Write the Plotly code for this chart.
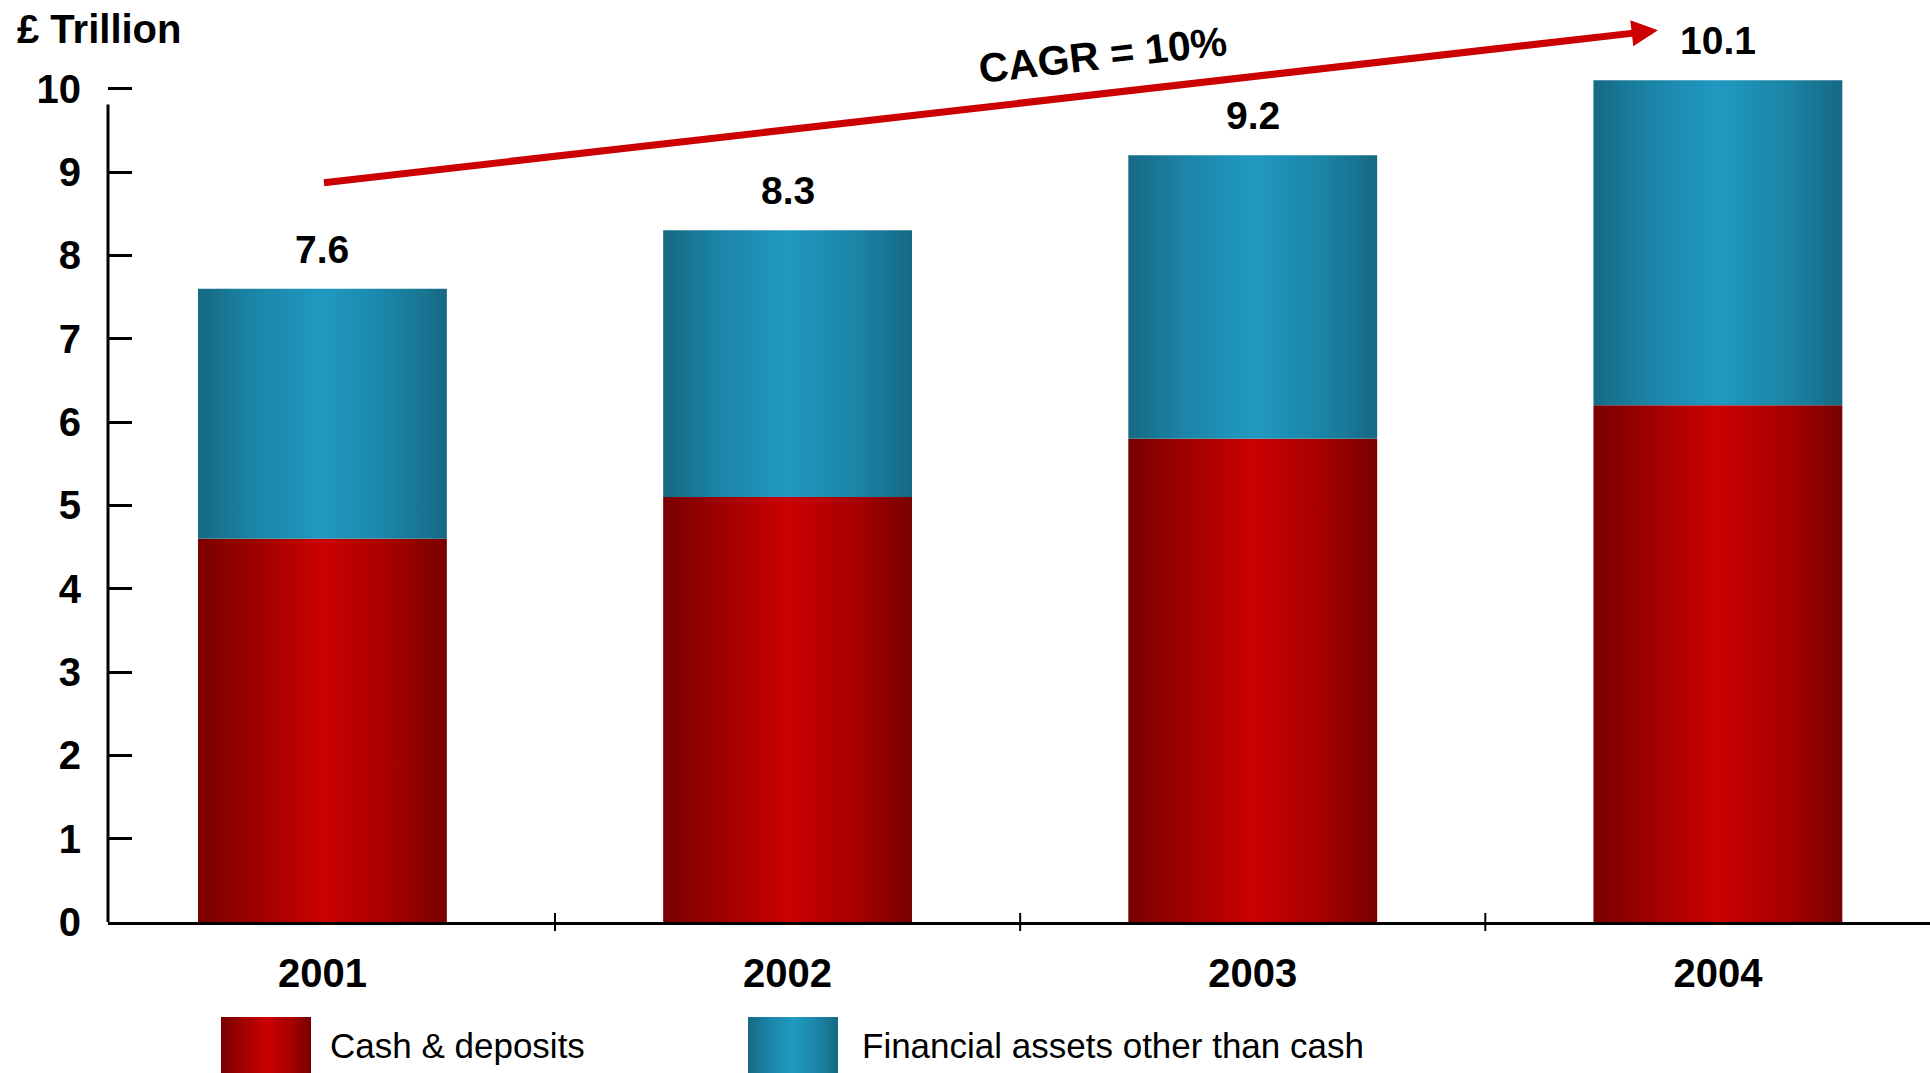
import plotly.graph_objects as go

# ---- data -------------------------------------------------------------
years = ["2001", "2002", "2003", "2004"]
cash_deposits = [4.6, 5.1, 5.8, 6.2]          # £ trillion
other_financial_assets = [3.0, 3.2, 3.4, 3.9]  # £ trillion
y_tick_values = list(range(0, 11))
series_names = ["Cash & deposits", "Financial assets other than cash"]
cagr_text = "CAGR = 10%"

# ---- styling ----------------------------------------------------------
RED_SCALE = [[0.0, "#780000"], [0.22, "#9e0000"], [0.5, "#cc0000"],
             [0.78, "#a60000"], [1.0, "#780000"]]
BLUE_SCALE = [[0.0, "#166983"], [0.22, "#1b84a6"], [0.5, "#2099c2"],
              [0.78, "#1b84a6"], [1.0, "#166983"]]
FONT = "Liberation Sans, Arial, sans-serif"
BAR_W = 0.535

W, H = 1930, 1073
M_L, M_T = 108, 72
PLOT_BOTTOM_PX = 922
paper_w = W - M_L
paper_h = H - M_T
main_domain_bottom = (H - PLOT_BOTTOM_PX) / paper_h


def px_x(px):
    return (px - M_L) / paper_w


def px_y(py):
    return (H - py) / paper_h


fig = go.Figure()

# stacked bars drawn as gradient-filled rectangles
for i, (c, o) in enumerate(zip(cash_deposits, other_financial_assets)):
    x0, x1 = i - BAR_W / 2, i + BAR_W / 2
    for base, height, scale, name in [(0, c, RED_SCALE, series_names[0]),
                                      (c, o, BLUE_SCALE, series_names[1])]:
        top = base + height
        fig.add_trace(go.Scatter(
            x=[x0, x1, x1, x0, x0], y=[base, base, top, top, base],
            mode="lines", line=dict(width=0), fill="toself",
            fillgradient=dict(type="horizontal", colorscale=scale),
            name=name, showlegend=False, hoverinfo="skip",
        ))

# total labels above each bar
for i, (c, o) in enumerate(zip(cash_deposits, other_financial_assets)):
    total = round(c + o, 1)
    fig.add_annotation(x=i, y=total, text=f"{total:.1f}", showarrow=False,
                       yanchor="bottom", yshift=16,
                       font=dict(family=FONT, size=39, color="black", weight="bold"))

# growth arrow and CAGR note
fig.add_annotation(x=2.871, y=10.70, ax=0.0, ay=8.87, axref="x", ayref="y",
                   xref="x", yref="y", text="", showarrow=True,
                   arrowhead=2, arrowsize=0.75, arrowwidth=7, arrowcolor="#cc0000",
                   standoff=0, startstandoff=0)
fig.add_annotation(xref="paper", yref="paper", x=px_x(1103), y=px_y(55),
                   xanchor="center", yanchor="middle",
                   text=cagr_text, showarrow=False, textangle=-6.5,
                   font=dict(family=FONT, size=41, color="black", weight="bold"))

# unit label
fig.add_annotation(xref="paper", yref="paper", x=px_x(15), y=px_y(29),
                   xanchor="left", yanchor="middle",
                   text="£ Trillion", showarrow=False,
                   font=dict(family=FONT, size=40, color="black", weight="bold"))

# vertical axis line and category separators
fig.add_shape(type="line", xref="paper", yref="y", x0=0, x1=0, y0=0, y1=9.81,
              line=dict(color="black", width=3))
for i in range(len(years) - 1):
    fig.add_shape(type="line", xref="x", yref="paper", x0=i + 0.5, x1=i + 0.5,
                  y0=main_domain_bottom - 9 / paper_h,
                  y1=main_domain_bottom + 9 / paper_h,
                  line=dict(color="black", width=2))

# legend keys
legend_items = [(221, series_names[0], RED_SCALE, 328),
                (748, series_names[1], BLUE_SCALE, 860)]
for sx, name, scale, tx in legend_items:
    fig.add_trace(go.Scatter(
        x=[sx, sx + 90, sx + 90, sx, sx], y=[-10, -10, 56, 56, -10],
        mode="lines", line=dict(width=0), fill="toself",
        fillgradient=dict(type="horizontal", colorscale=scale),
        xaxis="x2", yaxis="y2", showlegend=False, hoverinfo="skip",
    ))
    fig.add_annotation(xref="x2", yref="y2", x=tx, y=28, text=name,
                       showarrow=False, xanchor="left", yanchor="middle",
                       font=dict(family=FONT, size=35, color="black"))

fig.update_layout(
    width=W, height=H,
    margin=dict(l=M_L, r=0, t=M_T, b=0, pad=0, autoexpand=False),
    paper_bgcolor="white", plot_bgcolor="white",
    showlegend=False,
    xaxis=dict(
        range=[-0.461, 3.456], tickvals=list(range(len(years))), ticktext=years,
        showgrid=False, zeroline=False, showline=True, linecolor="black",
        linewidth=3, ticks="", ticklabelstandoff=14, automargin=False,
        tickfont=dict(family=FONT, size=40, color="black", weight="bold"),
        fixedrange=True,
    ),
    yaxis=dict(
        domain=[main_domain_bottom, 1], range=[0, 10.2],
        tickvals=y_tick_values, showgrid=False, zeroline=False, showline=False,
        ticks="inside", ticklen=24, tickwidth=3, tickcolor="black",
        ticklabelstandoff=26, automargin=False,
        tickfont=dict(family=FONT, size=40, color="black", weight="bold"),
        fixedrange=True,
    ),
    xaxis2=dict(domain=[0, 1], range=[M_L, W], anchor="y2", visible=False,
                fixedrange=True),
    yaxis2=dict(domain=[0, 56 / paper_h], range=[0, 56], anchor="x2",
                visible=False, fixedrange=True),
)

fig.write_html("out.html")
